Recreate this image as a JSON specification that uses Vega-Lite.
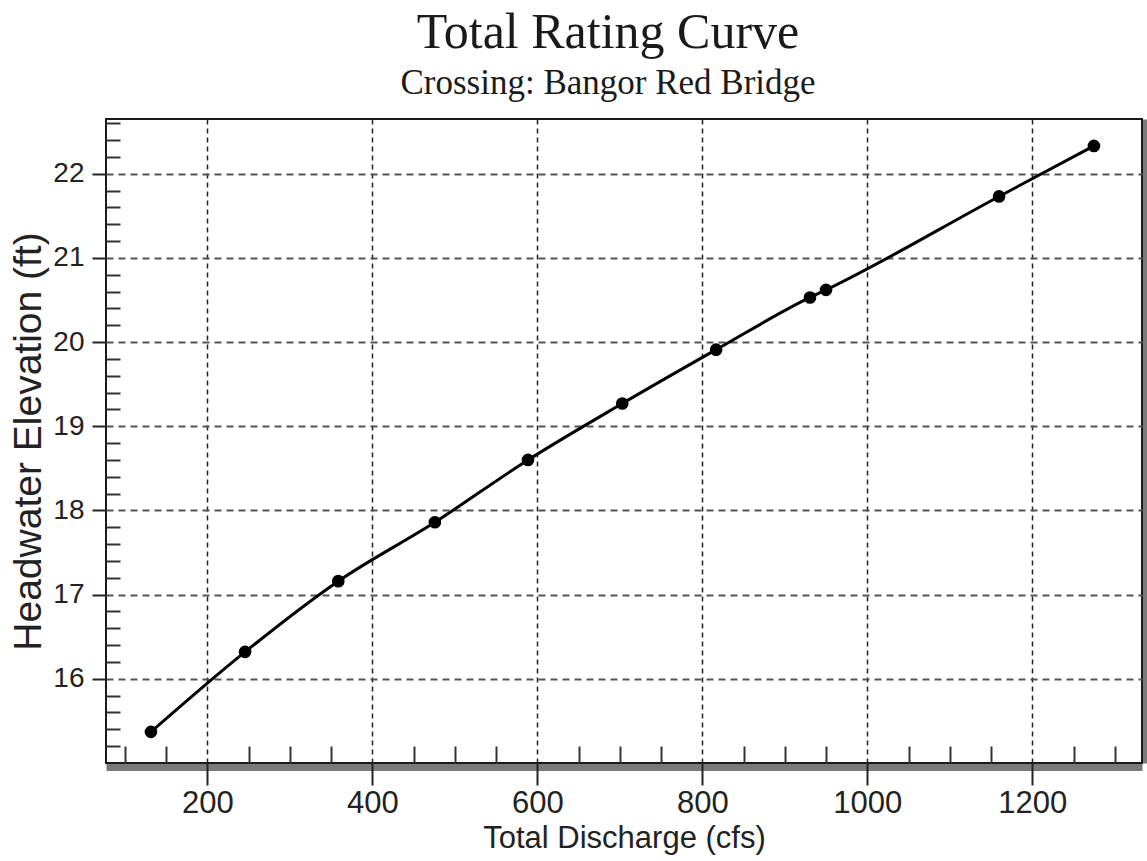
{
  "$schema": "https://vega.github.io/schema/vega-lite/v6.json",
  "autosize": "none",
  "width": 1036,
  "height": 644,
  "padding": {"left": 106, "top": 119, "right": 5, "bottom": 98},
  "background": "white",
  "title": {
    "text": "Total Rating Curve",
    "subtitle": "Crossing: Bangor Red Bridge",
    "font": "Liberation Serif",
    "fontSize": 50,
    "fontWeight": "normal",
    "color": "#1a1a1a",
    "subtitleFont": "Liberation Serif",
    "subtitleFontSize": 35,
    "subtitleColor": "#1a1a1a",
    "subtitlePadding": 8,
    "anchor": "middle",
    "frame": "group",
    "dx": -16,
    "offset": 18
  },
  "data": {
    "values": [
      {"q": 131.5, "h": 15.37},
      {"q": 245.6, "h": 16.32},
      {"q": 358.6, "h": 17.16},
      {"q": 475.7, "h": 17.86},
      {"q": 588.6, "h": 18.60},
      {"q": 702.9, "h": 19.27},
      {"q": 816.7, "h": 19.91},
      {"q": 930.5, "h": 20.53},
      {"q": 949.9, "h": 20.62},
      {"q": 1159.7, "h": 21.73},
      {"q": 1274.7, "h": 22.33}
    ]
  },
  "layer": [
    {
      "mark": {"type": "point", "opacity": 0},
      "encoding": {
        "x": {
          "field": "q", "type": "quantitative",
          "scale": {"domain": [77, 1333], "nice": false, "zero": false},
          "axis": {"orient": "bottom", "offset": 4, "domain": true, "domainColor": "#7a7a7a", "domainWidth": 7, "ticks": false, "labels": false, "grid": false, "title": null}
        },
        "y": {
          "field": "h", "type": "quantitative",
          "scale": {"domain": [15.0, 22.65], "nice": false, "zero": false},
          "axis": {"orient": "right", "offset": 3, "domain": true, "domainColor": "#7a7a7a", "domainWidth": 5, "ticks": false, "labels": false, "grid": false, "title": null}
        }
      }
    },
    {
      "mark": {"type": "line", "color": "#000000", "strokeWidth": 3, "interpolate": "monotone"},
      "encoding": {
        "x": {
          "field": "q", "type": "quantitative",
          "axis": {
            "orient": "bottom",
            "values": [200, 400, 600, 800, 1000, 1200],
            "format": "d",
            "domain": false,
            "ticks": true, "tickSize": 22, "tickColor": "#222222", "tickWidth": 2,
            "labels": true, "labelFont": "Liberation Sans", "labelFontSize": 31, "labelColor": "#222222", "labelPadding": 3,
            "title": "Total Discharge (cfs)", "titleFont": "Liberation Sans", "titleFontSize": 31, "titleFontWeight": "normal", "titleColor": "#222222", "titlePadding": 5,
            "grid": true, "gridColor": "#222222", "gridDash": [5, 4], "gridWidth": 1.5, "gridOpacity": 1
          }
        },
        "y": {
          "field": "h", "type": "quantitative",
          "axis": {
            "orient": "left",
            "values": [16, 17, 18, 19, 20, 21, 22],
            "domain": false,
            "ticks": true, "tickSize": 14, "tickColor": "#222222", "tickWidth": 2,
            "labels": true, "labelFont": "Liberation Sans", "labelFontSize": 28, "labelColor": "#222222", "labelPadding": 8,
            "title": "Headwater Elevation (ft)", "titleFont": "Liberation Sans", "titleFontSize": 39, "titleFontWeight": "normal", "titleColor": "#222222", "titlePadding": 4,
            "grid": true, "gridColor": "#555555", "gridDash": [7, 5], "gridWidth": 2, "gridOpacity": 1
          }
        }
      }
    },
    {
      "mark": {"type": "point", "filled": true, "color": "#000000", "opacity": 1, "size": 160, "shape": "circle"},
      "encoding": {
        "x": {
          "field": "q", "type": "quantitative",
          "axis": {
            "orient": "bottom",
            "values": [100, 150, 250, 300, 350, 450, 500, 550, 650, 700, 750, 850, 900, 950, 1050, 1100, 1150, 1250, 1300],
            "domain": false, "ticks": true, "tickSize": -17, "tickColor": "#333333", "tickWidth": 2,
            "labels": false, "grid": false, "title": null
          }
        },
        "y": {
          "field": "h", "type": "quantitative",
          "axis": {
            "orient": "left",
            "values": [15.2, 15.4, 15.6, 15.8, 16.2, 16.4, 16.6, 16.8, 17.2, 17.4, 17.6, 17.8, 18.2, 18.4, 18.6, 18.8, 19.2, 19.4, 19.6, 19.8, 20.2, 20.4, 20.6, 20.8, 21.2, 21.4, 21.6, 21.8, 22.2, 22.4, 22.6],
            "domain": false, "ticks": true, "tickSize": -14, "tickColor": "#333333", "tickWidth": 2,
            "labels": false, "grid": false, "title": null
          }
        }
      }
    }
  ],
  "resolve": {"axis": {"x": "independent", "y": "independent"}},
  "config": {
    "view": {"stroke": "#1a1a1a", "strokeWidth": 2}
  }
}
